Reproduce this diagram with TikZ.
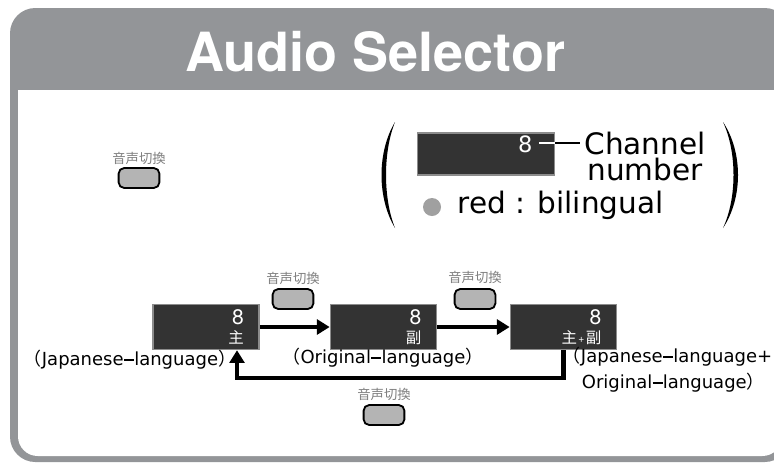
\documentclass[tikz,border=0pt]{standalone}
\usepackage{fontspec}
\setmainfont{DejaVu Sans}
\newfontfamily\jp{Noto Sans CJK JP}
\newfontfamily\titlefont{TeX Gyre Heros}
\usetikzlibrary{arrows.meta}

\definecolor{panelgray}{HTML}{939598}
\definecolor{lcdfill}{HTML}{333333}
\definecolor{lcdedge}{HTML}{8C8C8C}
\definecolor{keyfill}{HTML}{B4B4B4}
\definecolor{dotgray}{HTML}{A0A0A0}

\newcommand\subtxt[1]{{\jp\fontsize{11}{13.5}\selectfont #1}}
\newcommand\ldash{\kern0.02em\rule[0.27em]{0.55em}{0.09em}\kern0.02em}

\begin{document}
\begin{tikzpicture}[
  x=0.025cm, y=-0.025cm,
  disp/.style={draw=lcdedge, line width=1.2pt, fill=lcdfill, text=white, align=right,
               minimum width=2.65cm, minimum height=1.12cm, inner xsep=0.38cm, inner ysep=1pt,
               text width=1.89cm, font=\titlefont\fontsize{15}{13.5}\selectfont},
  btn/.style={draw=black, line width=1.3pt, fill=keyfill, rounded corners=4pt,
              minimum width=1.02cm, minimum height=0.5cm, inner sep=0pt},
  btntxt/.style={text=gray, inner sep=0pt, font=\jp\fontsize{9.5}{10}\selectfont},
  big/.style={inner xsep=3pt, inner ysep=0pt, font=\fontsize{21}{18.5}\selectfont},
  lbl/.style={align=left, font=\fontsize{12.8}{18.5}\selectfont},
  arr/.style={-{Triangle[length=9pt,width=10.5pt]}, line width=3.5pt},
]
\useasboundingbox (0,0) rectangle (774,463);
\clip (0,0) rectangle (774,463);

% panel
\fill[panelgray, rounded corners=18pt] (10,8) rectangle (790,462);
\fill[white, rounded corners=14pt] (18,90) rectangle (782,456);
\fill[white] (18,90) rectangle (782,130);
\node[text=white, font=\titlefont\bfseries\fontsize{38.4}{40}\selectfont] (title) at (375,52) {Audio Selector};

% key and legend
\node[btn]    (key0)  at (139,178) {};
\node[btntxt] (key0t) at (139,158) {音声切換};

\fill (395,122) .. controls (377,152) and (377,198) .. (395,228)
      .. controls (383,198) and (383,152) .. cycle;
\fill (723,122) .. controls (743,152) and (743,198) .. (723,228)
      .. controls (737,198) and (737,152) .. cycle;

\node[disp, minimum width=3.42cm, minimum height=1.05cm, text width=2.32cm, inner xsep=0.55cm,
      font=\fontsize{16}{11.5}\selectfont] (lcd0) at (486,154) {8\\\phantom{8}};
\node[big, align=center, anchor=north] (chan) at (645,132) {Channel\\number};
\draw[white, line width=1.2pt] (539,143) -- (lcd0.east |- 0,143);
\draw[line width=1.2pt] (lcd0.east |- 0,143) -- (chan.west |- 0,143);

\node[circle, fill=dotgray, minimum size=0.45cm, inner sep=0pt] (dot) at (432,207) {};
\node[big, anchor=base west] (bil) at (453,213) {red : bilingual};

% sequence
\node[disp] (lcd1) at (206,327)   {8\\\subtxt{主}};
\node[disp] (lcd2) at (383.5,327) {8\\\subtxt{副}};
\node[disp] (lcd3) at (563.5,327) {8\\\subtxt{主{\scriptsize\,+\,}副}};

\node[btn]    (key1)  at (293,299) {};
\node[btntxt] (key1t) at (293,278) {音声切換};
\node[btn]    (key2)  at (475,299) {};
\node[btntxt] (key2t) at (475,277) {音声切換};
\node[btn]    (key3)  at (384,415) {};
\node[btntxt] (key3t) at (384,394) {音声切換};

\node[lbl] (lab1) at (130,360) {{\jp （}Japanese\ldash language{\jp ）}};
\node[lbl] (lab2) at (383,358) {{\jp （}Original\ldash language{\jp ）}};
\node[lbl, anchor=west] (lab3) at (558,370) {{\jp （}Japanese\ldash language+\\\hspace*{1.05em}Original\ldash language{\jp ）}};

\coordinate (turn) at (237,378);
\draw[arr] (lcd1.east) -- (lcd2.west);
\draw[arr] (lcd2.east) -- (lcd3.west);
\draw[arr] (lcd3.south) |- (turn) -- (turn |- lcd1.south);
\end{tikzpicture}
\end{document}
